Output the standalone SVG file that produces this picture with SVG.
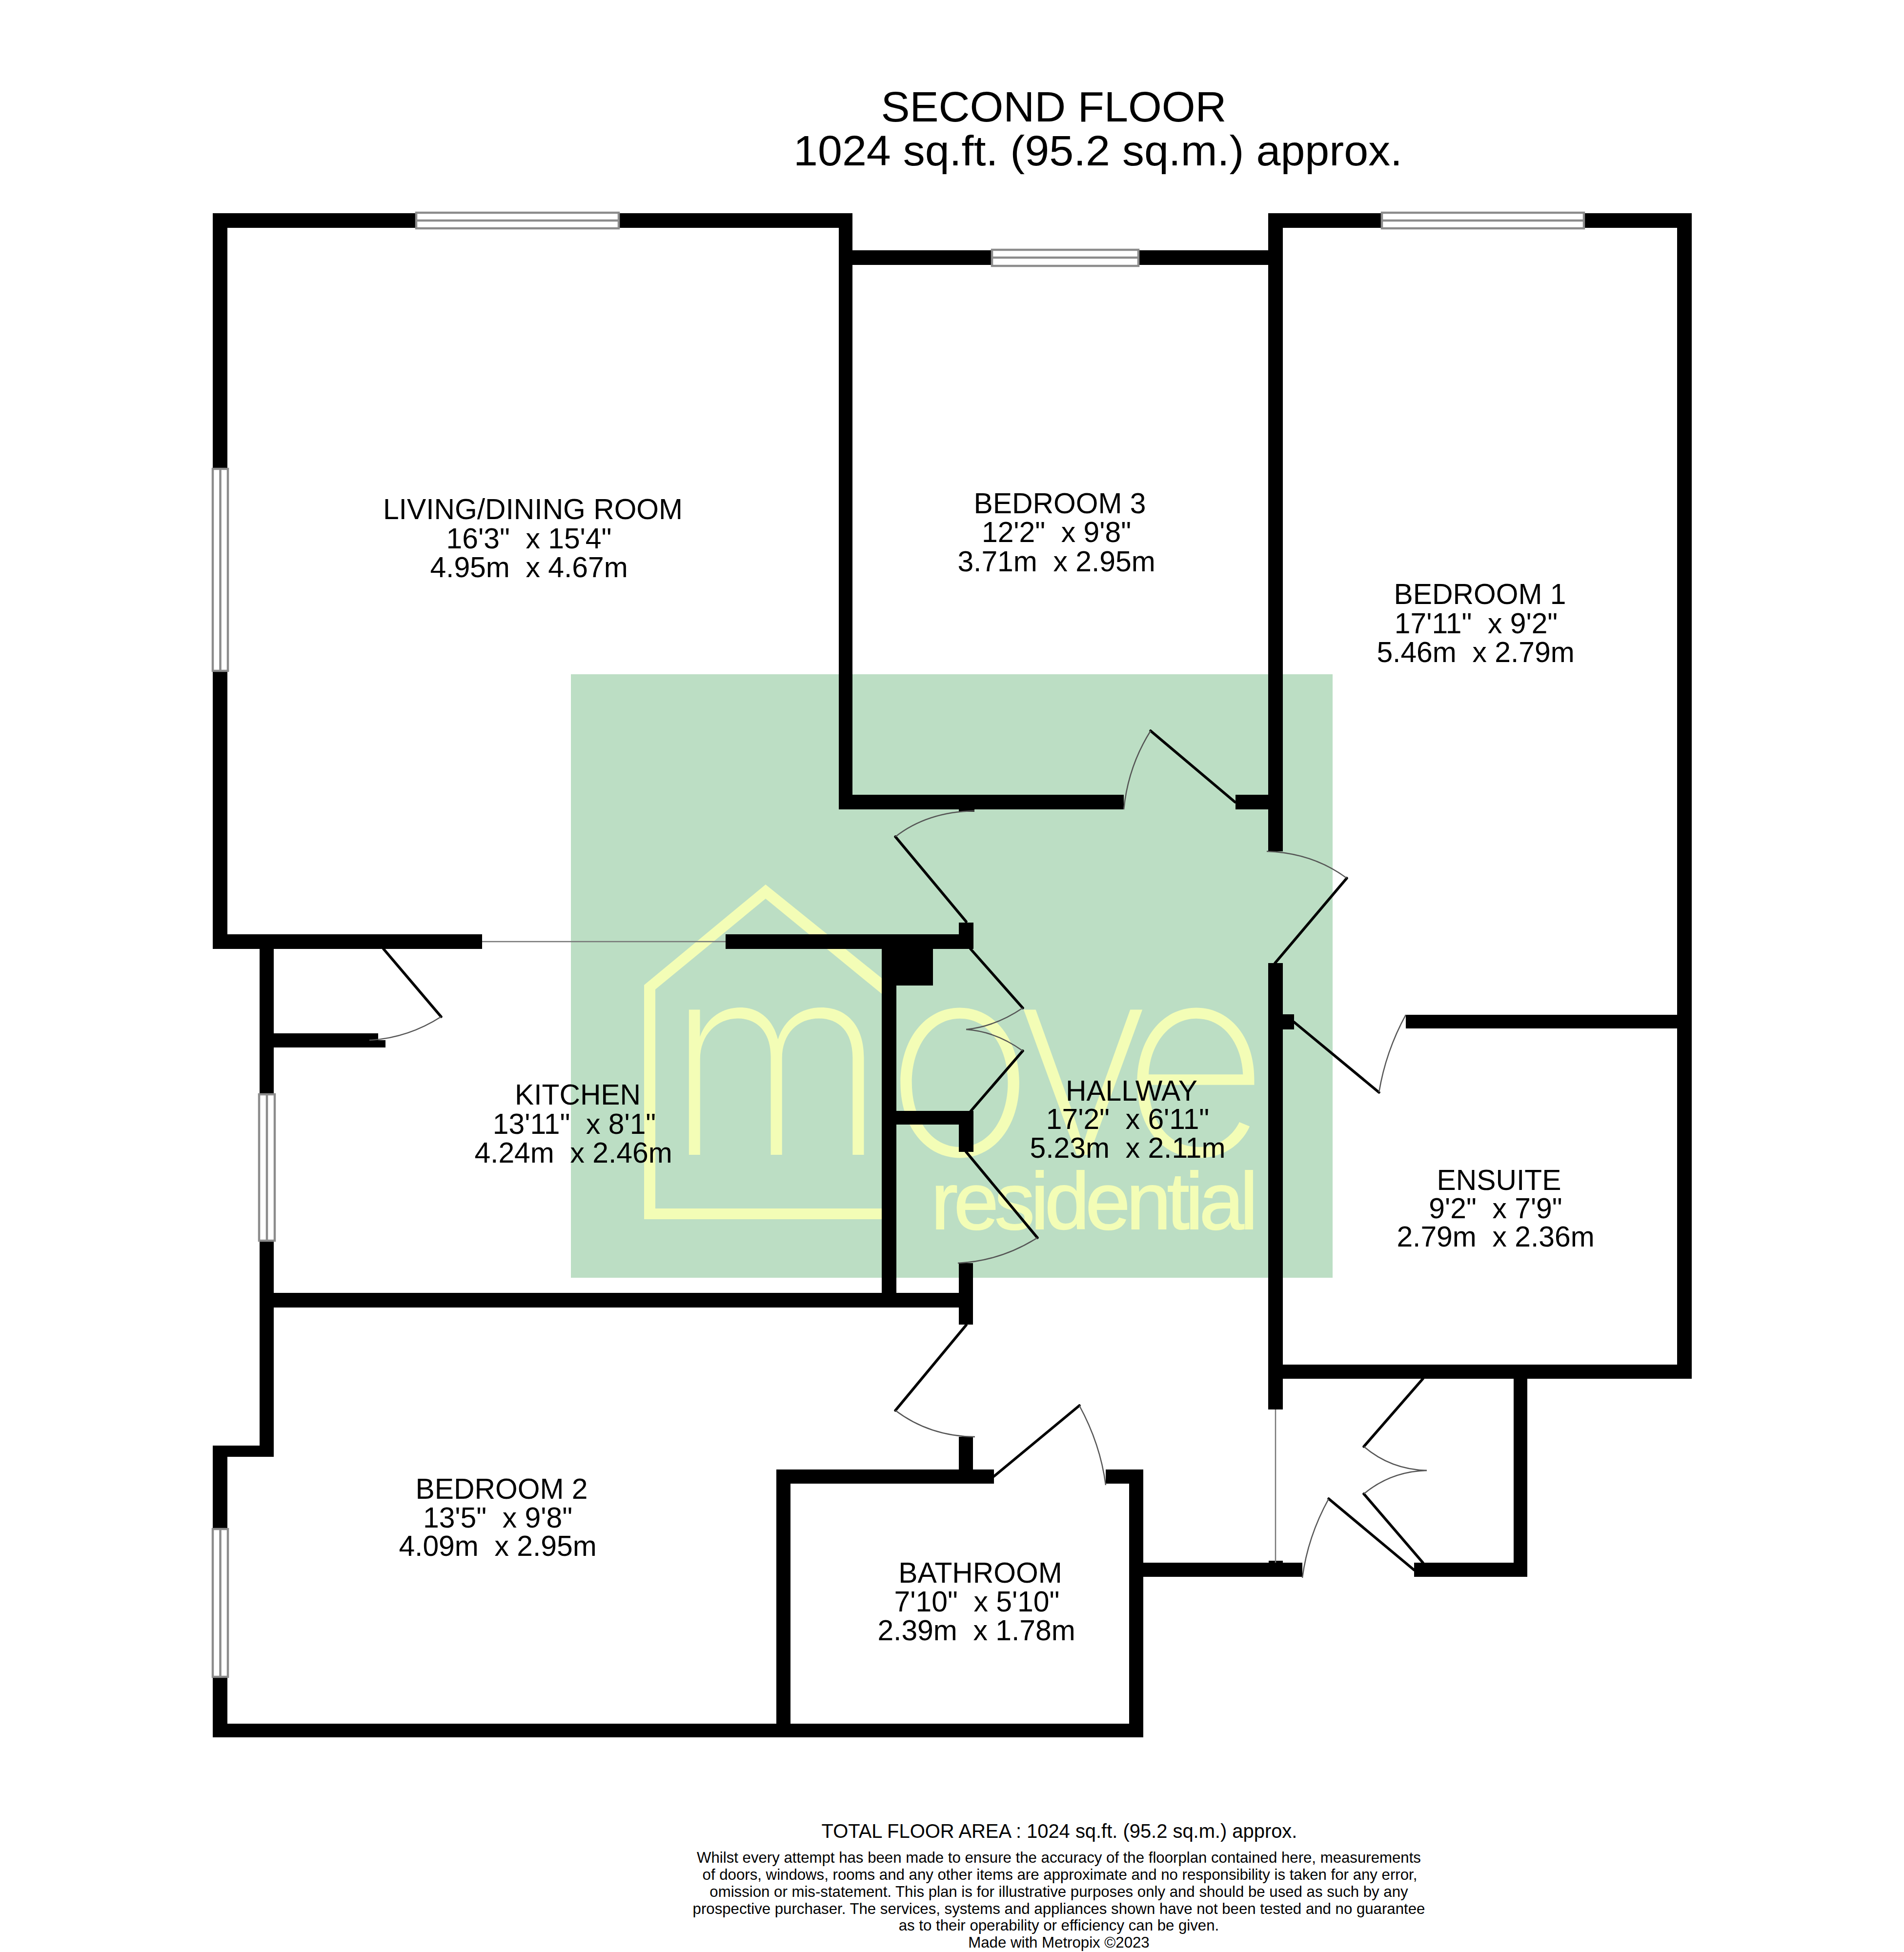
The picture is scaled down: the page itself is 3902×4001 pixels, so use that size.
<svg xmlns="http://www.w3.org/2000/svg" width="3902" height="4001" viewBox="0 0 3902 4001">
<style>
text{font-family:"Liberation Sans",Arial,sans-serif;fill:#000;text-anchor:middle;white-space:pre}
.r{font-size:58.800px}
.t{font-size:88px}
.s{font-size:39.900px}
.d{font-size:31.200px}
.w{fill:#000}
.win{fill:#fff;stroke:#8c8c8c;stroke-width:4.500}
.wl{stroke:#8c8c8c;stroke-width:4.500;fill:none}
.leaf{stroke:#000;stroke-width:5.500;fill:none;stroke-linecap:round}
.arc{stroke:#555;stroke-width:2.500;fill:none}
.thin{stroke:#777;stroke-width:2.500;fill:none}
.logo{fill:#f3fdb6}
</style>
<rect width="3902" height="4001" fill="#fff"/>
<g id="logo">
<rect x="1170" y="1382" width="1561" height="1237" fill="#bcdec4"/>
<path class="logo" d="M1320 2019L1569 1813L1807 2005V2037L1569 1842L1343 2028V2477H1807V2499H1320Z"/>
<text transform="translate(1404 2367) scale(.955 1)" x="-41 430 704 938" y="0" style="font-family:Inter,'Open Sans',sans-serif;font-weight:200;font-size:545px;text-anchor:start" class="logo">move</text>
<text x="2243" y="2519" textLength="670" style="font-size:165px;stroke:#f3fdb6;stroke-width:2" class="logo">residential</text>
</g>
<g id="walls" class="w">
<rect x="436" y="437" width="1311" height="30"/>
<rect x="436" y="437" width="30" height="1508"/>
<rect x="1719" y="437" width="28" height="1222"/>
<rect x="1747" y="513" width="853" height="30"/>
<rect x="2599" y="437" width="868" height="30"/>
<rect x="3437" y="437" width="30" height="2389"/>
<rect x="2599" y="437" width="30" height="1308"/>
<rect x="1719" y="1629" width="584" height="30"/>
<rect x="2532" y="1629" width="97" height="30"/>
<rect x="1965" y="1659" width="32" height="5"/>
<rect x="2599" y="1974" width="30" height="915"/>
<rect x="2629" y="2079" width="23" height="31"/>
<rect x="2881" y="2080" width="586" height="28"/>
<rect x="2599" y="2797" width="868" height="29"/>
<rect x="3102" y="2826" width="28" height="406"/>
<rect x="2898" y="3203" width="232" height="29"/>
<rect x="2314" y="3203" width="355" height="29"/>
<rect x="2600" y="3199" width="29" height="6"/>
<rect x="436" y="1915" width="552" height="30"/>
<rect x="1487" y="1915" width="508" height="30"/>
<rect x="1965" y="1891" width="30" height="54"/>
<rect x="1807" y="1915" width="30" height="765"/>
<rect x="1837" y="1945" width="75" height="75"/>
<rect x="1837" y="2277" width="158" height="28"/>
<rect x="1965" y="2277" width="30" height="84"/>
<rect x="1965" y="2589" width="29" height="126"/>
<rect x="532" y="1915" width="29" height="1071"/>
<rect x="561" y="2118" width="214" height="29"/>
<rect x="775" y="2132" width="15" height="15"/>
<rect x="561" y="2650" width="1433" height="30"/>
<rect x="436" y="2963" width="125" height="23"/>
<rect x="436" y="2963" width="30" height="598"/>
<rect x="436" y="3533" width="1907" height="28"/>
<rect x="1591" y="3012" width="29" height="549"/>
<rect x="1591" y="3012" width="446" height="29"/>
<rect x="1965" y="2945" width="29" height="96"/>
<rect x="2266" y="3012" width="77" height="29"/>
<rect x="2314" y="3012" width="29" height="549"/>
</g>
<g id="windows">
<g><rect class="win" x="853" y="436" width="415" height="32"/><path class="wl" d="M853 452H1268"/></g>
<g><rect class="win" x="2832" y="436" width="414" height="32"/><path class="wl" d="M2832 452H3246"/></g>
<g><rect class="win" x="2033" y="512" width="300" height="33"/><path class="wl" d="M2033 528H2333"/></g>
<g><rect class="win" x="436" y="961" width="31" height="414"/><path class="wl" d="M451.500 961V1375"/></g>
<g><rect class="win" x="531" y="2243" width="32" height="300"/><path class="wl" d="M547 2243V2543"/></g>
<g><rect class="win" x="436" y="3134" width="31" height="303"/><path class="wl" d="M451.500 3134V3437"/></g>
</g>
<g id="openings">
<path class="thin" d="M988 1930H1487"/>
<path class="thin" d="M2614 2889V3203"/>
</g>
<g id="doors">
<path class="leaf" d="M2531 1644L2358 1498"/><path class="arc" d="M2303 1659Q2312 1571 2358 1498"/>
<path class="leaf" d="M1980 1889L1835 1715"/><path class="arc" d="M1997 1662Q1900 1664 1835 1715"/>
<path class="leaf" d="M2613 1974L2760 1800"/><path class="arc" d="M2596 1745Q2690 1748 2760 1800"/>
<path class="leaf" d="M2652 2095L2826 2239"/><path class="arc" d="M2881 2080Q2840 2155 2826 2239"/>
<path class="leaf" d="M1989 1945L2096 2066"/><path class="arc" d="M2096 2066Q2040 2104 1980 2110"/>
<path class="leaf" d="M1989 2278L2096 2154"/><path class="arc" d="M2096 2154Q2040 2114 1980 2110"/>
<path class="leaf" d="M1980 2361L2126 2537"/><path class="arc" d="M2126 2537Q2050 2585 1963 2589"/>
<path class="leaf" d="M1980 2716L1835 2891"/><path class="arc" d="M1835 2891Q1905 2944 1998 2945"/>
<path class="leaf" d="M2037 3026L2212 2881"/><path class="arc" d="M2212 2881Q2255 2960 2266 3044"/>
<path class="leaf" d="M2898 3218L2723 3072"/><path class="arc" d="M2669 3234Q2680 3150 2723 3072"/>
<path class="leaf" d="M2916 2826L2795 2965"/><path class="arc" d="M2795 2965Q2850 3012 2924 3014"/>
<path class="leaf" d="M2916 3203L2795 3062"/><path class="arc" d="M2795 3062Q2850 3016 2924 3014"/>
<path class="leaf" d="M786 1945L904 2084"/><path class="arc" d="M904 2084Q835 2128 757 2132"/>
</g>
<g id="labels">
<text class="t" x="2159.500" y="249" textLength="708" lengthAdjust="spacingAndGlyphs">SECOND FLOOR</text>
<text class="t" x="2250" y="339" textLength="1248" lengthAdjust="spacingAndGlyphs">1024 sq.ft. (95.2 sq.m.) approx.</text>
<g id="living"><text class="r" x="1092" y="1064">LIVING/DINING ROOM</text><text class="r" x="1084" y="1124">16'3"  x 15'4"</text><text class="r" x="1084" y="1183">4.95m  x 4.67m</text></g>
<g id="bedroom3"><text class="r" x="2172" y="1052">BEDROOM 3</text><text class="r" x="2165" y="1111">12'2"  x 9'8"</text><text class="r" x="2165" y="1171">3.71m  x 2.95m</text></g>
<g id="bedroom1"><text class="r" x="3033" y="1238">BEDROOM 1</text><text class="r" x="3025" y="1298">17'11"  x 9'2"</text><text class="r" x="3024" y="1357">5.46m  x 2.79m</text></g>
<g id="kitchen"><text class="r" x="1184" y="2264">KITCHEN</text><text class="r" x="1177" y="2324">13'11"  x 8'1"</text><text class="r" x="1175" y="2383">4.24m  x 2.46m</text></g>
<g id="hallway"><text class="r" x="2319" y="2256">HALLWAY</text><text class="r" x="2311" y="2314">17'2"  x 6'11"</text><text class="r" x="2311" y="2373">5.23m  x 2.11m</text></g>
<g id="ensuite"><text class="r" x="3072" y="2439">ENSUITE</text><text class="r" x="3065" y="2497">9'2"  x 7'9"</text><text class="r" x="3065" y="2555">2.79m  x 2.36m</text></g>
<g id="bedroom2"><text class="r" x="1028" y="3072">BEDROOM 2</text><text class="r" x="1020" y="3131">13'5"  x 9'8"</text><text class="r" x="1020" y="3189">4.09m  x 2.95m</text></g>
<g id="bathroom"><text class="r" x="2009" y="3244">BATHROOM</text><text class="r" x="2002" y="3303">7'10"  x 5'10"</text><text class="r" x="2001" y="3362">2.39m  x 1.78m</text></g>
<g id="footer">
<text class="s" x="2171" y="3767">TOTAL FLOOR AREA : 1024 sq.ft. (95.2 sq.m.) approx.</text>
<text class="d" x="2170" y="3818">Whilst every attempt has been made to ensure the accuracy of the floorplan contained here, measurements</text>
<text class="d" x="2172" y="3853">of doors, windows, rooms and any other items are approximate and no responsibility is taken for any error,</text>
<text class="d" x="2170" y="3888">omission or mis-statement. This plan is for illustrative purposes only and should be used as such by any</text>
<text class="d" x="2170" y="3923">prospective purchaser. The services, systems and appliances shown have not been tested and no guarantee</text>
<text class="d" x="2170" y="3957">as to their operability or efficiency can be given.</text>
<text class="d" x="2170" y="3992">Made with Metropix ©2023</text>
</g>
</g>
</svg>
